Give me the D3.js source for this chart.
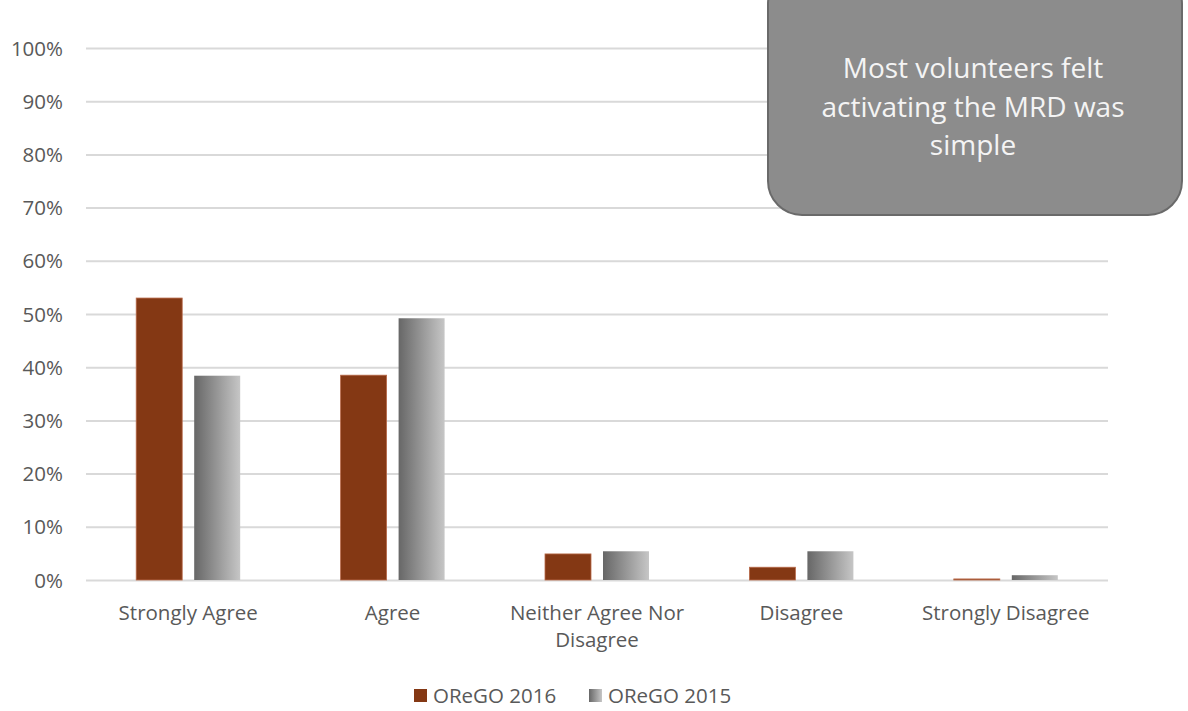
<!DOCTYPE html>
<html><head><meta charset="utf-8">
<script src="https://cdn.jsdelivr.net/npm/d3@7"></script>
<style>body{margin:0;background:#fff;} text{font-family:"Open Sans",Lato,sans-serif;}</style>
</head><body>
<svg id="c" width="1188" height="711"></svg>
<script>
const categories = ["Strongly Agree","Agree","Neither Agree Nor Disagree","Disagree","Strongly Disagree"];
const categoryLines = [["Strongly Agree"],["Agree"],["Neither Agree Nor","Disagree"],["Disagree"],["Strongly Disagree"]];
const series = ["OReGO 2016","OReGO 2015"];
const values2016 = [0.53, 0.385, 0.049, 0.024, 0.002];
const values2015 = [0.384, 0.492, 0.054, 0.054, 0.009];
const yTicks = [0,0.1,0.2,0.3,0.4,0.5,0.6,0.7,0.8,0.9,1.0];
const calloutLines = ["Most volunteers felt","activating the MRD was","simple"];

const svg = d3.select("#c");
const L=86,R=1108,T=48,B=580;
const x = d3.scaleBand().domain(categories).range([L,R]);
const y = d3.scaleLinear().domain([0,1]).range([B,T]);
const bw = 46, gap = 12;

const defs = svg.append("defs");
const g = defs.append("linearGradient").attr("id","gr").attr("x1","0%").attr("x2","100%").attr("y1","0%").attr("y2","0%");
g.append("stop").attr("offset","0%").attr("stop-color","#676767");
g.append("stop").attr("offset","100%").attr("stop-color","#c6c6c6");

// gridlines
const yAxis = d3.axisLeft(y).tickValues(yTicks).tickSize(-(R-L)).tickFormat(d3.format(".0%")).tickPadding(23);
const ya = svg.append("g").attr("transform",`translate(${L},0)`).call(yAxis);
ya.select(".domain").remove();
ya.selectAll(".tick line").attr("stroke","#d9d9d9").attr("stroke-width",2);
ya.selectAll(".tick text").attr("fill","#595959").style("font-size","20.5px").attr("dy","0.35em");

// bars
const c = x.bandwidth()/2;
svg.append("g").selectAll("rect").data(categories).join("rect")
  .attr("x",d=>x(d)+c-gap/2-bw).attr("width",bw)
  .attr("y",(d,i)=>y(values2016[i])).attr("height",(d,i)=>B-y(values2016[i]))
  .attr("fill","#843814").attr("stroke","#b86a4a").attr("stroke-width",0.8);
svg.append("g").selectAll("rect").data(categories).join("rect")
  .attr("x",d=>x(d)+c+gap/2).attr("width",bw)
  .attr("y",(d,i)=>y(values2015[i])).attr("height",(d,i)=>B-y(values2015[i]))
  .attr("fill","url(#gr)");

// x labels
const xl = svg.append("g");
categories.forEach((cat,i)=>{
  const t = xl.append("text").attr("x",x(cat)+c).attr("y",620).attr("text-anchor","middle")
    .attr("fill","#595959").style("font-size","20.5px");
  categoryLines[i].forEach((ln,j)=>t.append("tspan").attr("x",x(cat)+c).attr("dy",j?27:0).text(ln));
});

// legend
const lg = svg.append("g");
const lx=[414,589];
series.forEach((s,i)=>{
  lg.append("rect").attr("x",lx[i]).attr("y",689).attr("width",13).attr("height",13)
    .attr("fill",i?"url(#gr)":"#843814");
  lg.append("text").attr("x",lx[i]+19).attr("y",703).attr("fill","#595959").style("font-size","20.5px").text(s);
});

// callout
svg.append("rect").attr("x",768).attr("y",-30).attr("width",414).attr("height",245).attr("rx",34)
  .attr("fill","#8c8c8c").attr("stroke","#6a6a6a").attr("stroke-width",2);
calloutLines.forEach((ln,i)=>{
  svg.append("text").attr("x",973).attr("y",78+i*38.5).attr("text-anchor","middle")
    .attr("fill","#f4f4f4").style("font-size","28px").text(ln);
});
</script>
</body></html>
